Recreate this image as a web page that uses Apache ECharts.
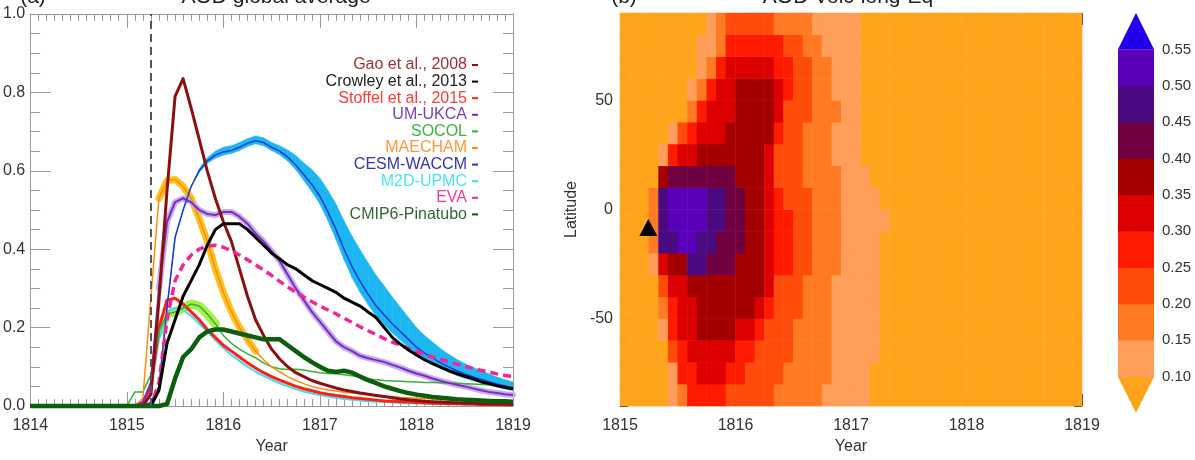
<!DOCTYPE html>
<html><head><meta charset="utf-8">
<script src="https://cdn.jsdelivr.net/npm/echarts@6/dist/echarts.min.js"></script>
<style>html,body{margin:0;padding:0;background:#fff}#chart{width:1195px;height:460px}</style>
</head><body><div id="chart"></div>
<script>
const FONT = '"Liberation Sans", Arial, Helvetica, sans-serif';

// ---------- panel (a): AOD global average ----------
// time grid: one point in 1814, then monthly from 1815.0 to 1819.0
const years = [1814].concat(Array.from({length: 49}, (_, k) => 1815 + k / 12));
const eruptionYear = 1815.25;

const gao = [0, 0,0,0,0.03,0.27,0.55,0.79,0.835,0.76,0.68,0.60,0.53,0.47,0.42,0.35,0.28,0.22,0.18,0.145,0.12,0.10,0.085,0.075,0.065,0.058,0.052,0.046,0.041,0.037,0.033,0.030,0.027,0.024,0.021,0.018,0.016,0.014,0.012,0.011,0.010,0.009,0.008,0.007,0.007,0.006,0.006,0.005,0.005,0.004];
const crowley = [0, 0,0,0,0,0.04,0.16,0.22,0.28,0.32,0.36,0.41,0.45,0.465,0.465,0.465,0.45,0.43,0.41,0.39,0.375,0.36,0.35,0.335,0.32,0.31,0.30,0.29,0.275,0.265,0.255,0.24,0.225,0.20,0.175,0.158,0.143,0.13,0.118,0.108,0.099,0.09,0.083,0.076,0.07,0.062,0.057,0.052,0.048,0.044];
const stoffel = [0, 0,0,0.01,0.05,0.20,0.27,0.275,0.26,0.24,0.22,0.195,0.175,0.155,0.14,0.125,0.11,0.097,0.085,0.075,0.066,0.058,0.05,0.044,0.039,0.034,0.030,0.027,0.024,0.021,0.019,0.017,0.015,0.013,0.012,0.011,0.010,0.009,0.008,0.007,0.007,0.006,0.006,0.005,0.005,0.004,0.004,0.004,0.003,0.003];
const ukca = [0, 0,0,0.01,0.06,0.30,0.47,0.52,0.53,0.52,0.50,0.49,0.487,0.495,0.495,0.483,0.465,0.44,0.42,0.395,0.37,0.335,0.30,0.27,0.24,0.215,0.19,0.165,0.15,0.14,0.128,0.122,0.117,0.112,0.105,0.098,0.09,0.083,0.077,0.07,0.064,0.059,0.054,0.05,0.045,0.04,0.036,0.033,0.03,0.028];
const socol = [0, 0,0.036,0.036,0.08,0.19,0.235,0.24,0.25,0.26,0.255,0.235,0.21,0.18,0.16,0.145,0.133,0.123,0.11,0.10,0.095,0.093,0.094,0.092,0.088,0.085,0.083,0.082,0.08,0.077,0.073,0.069,0.067,0.065,0.064,0.063,0.062,0.061,0.06,0.06,0.059,0.058,0.058,0.057,0.056,0.055,0.054,0.052,0.05,0.048];
const maecham = [0, 0,0,0.02,0.28,0.53,0.575,0.578,0.56,0.53,0.478,0.42,0.35,0.29,0.24,0.20,0.17,0.14,0.118,0.10,0.087,0.075,0.065,0.057,0.05,0.045,0.041,0.038,0.035,0.033,0.031,0.029,0.027,0.025,0.024,0.022,0.021,0.02,0.019,0.018,0.017,0.016,0.016,0.015,0.014,0.014,0.013,0.013,0.012,0.012];
const cesm = [0, 0,0,0,0.01,0.05,0.25,0.43,0.50,0.56,0.60,0.625,0.64,0.648,0.652,0.66,0.67,0.677,0.672,0.66,0.65,0.635,0.615,0.59,0.565,0.535,0.495,0.45,0.40,0.355,0.318,0.285,0.255,0.232,0.21,0.19,0.17,0.15,0.135,0.123,0.11,0.10,0.09,0.082,0.075,0.068,0.062,0.056,0.051,0.046];
const cesmSpreadUp = [0, 0,0,0,0,0,0,0,0,0,0.005,0.008,0.01,0.012,0.012,0.012,0.012,0.012,0.012,0.012,0.014,0.018,0.024,0.03,0.038,0.046,0.055,0.065,0.072,0.078,0.08,0.08,0.078,0.074,0.068,0.062,0.056,0.05,0.045,0.04,0.036,0.032,0.029,0.026,0.024,0.022,0.02,0.018,0.016,0.015];
const cesmSpreadDown = [0, 0,0,0,0,0,0,0,0,0,0.004,0.006,0.008,0.008,0.008,0.008,0.008,0.008,0.008,0.008,0.009,0.01,0.012,0.015,0.018,0.02,0.022,0.025,0.027,0.028,0.028,0.027,0.026,0.025,0.024,0.022,0.02,0.018,0.016,0.015,0.014,0.013,0.012,0.011,0.01,0.009,0.009,0.008,0.008,0.007];
const m2d = [0, 0,0,0.005,0.04,0.17,0.24,0.25,0.245,0.23,0.21,0.19,0.168,0.148,0.13,0.115,0.10,0.088,0.077,0.067,0.058,0.05,0.043,0.037,0.032,0.028,0.024,0.021,0.018,0.016,0.014,0.012,0.011,0.010,0.009,0.008,0.007,0.007,0.006,0.006,0.005,0.005,0.005,0.004,0.004,0.004,0.004,0.003,0.003,0.003];
const eva = [0, 0,0,0,0,0.06,0.22,0.32,0.36,0.385,0.40,0.408,0.41,0.405,0.396,0.385,0.373,0.36,0.347,0.333,0.318,0.304,0.29,0.278,0.266,0.255,0.245,0.235,0.224,0.213,0.202,0.192,0.182,0.172,0.163,0.155,0.147,0.139,0.132,0.125,0.119,0.113,0.107,0.101,0.096,0.091,0.087,0.082,0.078,0.075];
const cmip6 = [0, 0,0,0,0,0,0.005,0.07,0.125,0.145,0.175,0.19,0.195,0.195,0.19,0.185,0.18,0.175,0.17,0.17,0.17,0.155,0.14,0.125,0.112,0.10,0.09,0.087,0.09,0.085,0.075,0.066,0.058,0.05,0.044,0.038,0.033,0.029,0.026,0.023,0.021,0.019,0.017,0.016,0.015,0.014,0.013,0.012,0.012,0.011];

const legendNames  = ['Gao et al., 2008','Crowley et al., 2013','Stoffel et al., 2015','UM-UKCA','SOCOL','MAECHAM','CESM-WACCM','M2D-UPMC','EVA','CMIP6-Pinatubo'];
const labelColors  = ['#9e3232','#222222','#ff3b30','#7a3fb8','#3cb43c','#ff963a','#3434b0','#4fe4f2','#ee3a9e','#2e6b2e'];
const lineColors   = ['#8b1111','#000000','#ff2014','#7b2cc0','#35b035','#ff8c10','#1a3ad6','#3ce0f0','#f0269a','#0b5e0b'];
const lineWidths   = [3, 3, 3, 2, 1.5, 1.5, 1.5, 2, 3.5, 4.5];
const seriesValues = [gao, crowley, stoffel, ukca, socol, maecham, cesm, m2d, eva, cmip6];
const drawOrder    = [7, 2, 4, 5, 3, 6, 0, 8, 1, 9];

// ---------- panel (b): AOD Volc-long-Eq (monthly from Jan 1815, 10-degree bands) ----------
const aodN85 = [0,0,0,0.01,0.02,0.03,0.05,0.07,0.09,0.12,0.17,0.21,0.23,0.24,0.23,0.21,0.19,0.18,0.17,0.16,0.14,0.13,0.13,0.12,0.11,0.098,0.092,0.09];
const aodN75 = [0,0,0,0.01,0.03,0.04,0.06,0.08,0.11,0.14,0.19,0.26,0.28,0.29,0.29,0.28,0.27,0.24,0.22,0.19,0.17,0.145,0.13,0.12,0.11,0.098,0.092,0.09];
const aodN65 = [0,0,0,0.01,0.03,0.05,0.07,0.09,0.13,0.18,0.26,0.31,0.33,0.34,0.34,0.32,0.28,0.26,0.23,0.21,0.19,0.17,0.145,0.13,0.11,0.095,0.09,0.088];
const aodN55 = [0,0,0,0.01,0.04,0.06,0.08,0.11,0.17,0.26,0.31,0.33,0.36,0.37,0.37,0.36,0.31,0.26,0.23,0.21,0.19,0.17,0.148,0.13,0.11,0.095,0.09,0.088];
const aodN45 = [0,0,0,0.02,0.05,0.07,0.098,0.17,0.26,0.31,0.33,0.34,0.37,0.38,0.38,0.36,0.32,0.248,0.23,0.21,0.19,0.17,0.152,0.13,0.105,0.095,0.09,0.088];
const aodN35 = [0,0,0,0.03,0.06,0.11,0.20,0.27,0.31,0.32,0.33,0.36,0.38,0.38,0.37,0.355,0.28,0.24,0.22,0.199,0.18,0.165,0.148,0.13,0.11,0.095,0.09,0.088];
const aodN25 = [0,0,0,0.08,0.13,0.26,0.31,0.33,0.36,0.37,0.38,0.39,0.39,0.38,0.36,0.31,0.24,0.23,0.21,0.195,0.18,0.16,0.145,0.13,0.115,0.099,0.092,0.088];
const aodN15 = [0,0,0,0.09,0.38,0.42,0.44,0.44,0.44,0.43,0.42,0.41,0.39,0.38,0.36,0.31,0.248,0.23,0.215,0.198,0.185,0.165,0.152,0.135,0.12,0.105,0.095,0.09];
const aodN05 = [0,0,0,0.17,0.49,0.52,0.54,0.53,0.51,0.48,0.46,0.43,0.41,0.38,0.352,0.31,0.27,0.24,0.225,0.21,0.195,0.175,0.16,0.145,0.13,0.12,0.11,0.099];
const aodS05 = [0,0,0,0.17,0.49,0.53,0.549,0.53,0.51,0.48,0.46,0.43,0.41,0.385,0.355,0.32,0.28,0.255,0.23,0.21,0.198,0.18,0.162,0.148,0.135,0.12,0.11,0.101];
const aodS15 = [0,0,0,0.15,0.46,0.49,0.505,0.502,0.49,0.47,0.448,0.43,0.41,0.39,0.36,0.32,0.28,0.255,0.23,0.21,0.195,0.175,0.16,0.145,0.13,0.12,0.105,0.098];
const aodS25 = [0,0,0,0.12,0.32,0.352,0.39,0.46,0.46,0.44,0.42,0.402,0.39,0.38,0.36,0.32,0.28,0.25,0.225,0.205,0.19,0.17,0.155,0.14,0.125,0.115,0.102,0.095];
const aodS35 = [0,0,0,0.09,0.24,0.31,0.34,0.36,0.39,0.395,0.39,0.385,0.38,0.375,0.36,0.31,0.245,0.23,0.215,0.199,0.185,0.165,0.148,0.135,0.12,0.11,0.102,0.095];
const aodS45 = [0,0,0,0.06,0.17,0.29,0.32,0.345,0.37,0.38,0.38,0.375,0.37,0.36,0.34,0.28,0.245,0.23,0.21,0.195,0.18,0.16,0.145,0.135,0.12,0.11,0.101,0.095];
const aodS55 = [0,0,0,0.05,0.11,0.26,0.305,0.33,0.355,0.365,0.36,0.355,0.34,0.32,0.27,0.245,0.23,0.215,0.198,0.185,0.175,0.16,0.148,0.135,0.125,0.115,0.102,0.095];
const aodS65 = [0,0,0,0.04,0.09,0.21,0.27,0.31,0.33,0.34,0.335,0.32,0.298,0.252,0.24,0.23,0.215,0.202,0.19,0.18,0.17,0.155,0.148,0.135,0.125,0.115,0.102,0.094];
const aodS75 = [0,0,0,0.03,0.08,0.14,0.255,0.28,0.302,0.31,0.305,0.28,0.25,0.24,0.225,0.215,0.205,0.195,0.185,0.175,0.165,0.155,0.145,0.13,0.12,0.11,0.098,0.09];
const aodS85 = [0,0,0,0.02,0.08,0.11,0.18,0.26,0.28,0.28,0.26,0.24,0.23,0.22,0.21,0.205,0.19,0.18,0.175,0.165,0.16,0.149,0.14,0.13,0.12,0.105,0.095,0.09];
// months 28..47 (mid-1817 to end of 1818): faded below 0.10 at every latitude
const lateTail = [0.086,0.082,0.077,0.072,0.068,0.064,0.06,0.057,0.054,0.051,0.048,0.046,0.044,0.042,0.04,0.038,0.036,0.035,0.033,0.032];
const latBands = [-85,-75,-65,-55,-45,-35,-25,-15,-5,5,15,25,35,45,55,65,75,85];
const aodRows = [aodS85,aodS75,aodS65,aodS55,aodS45,aodS35,aodS25,aodS15,aodS05,aodN05,aodN15,aodN25,aodN35,aodN45,aodN55,aodN65,aodN75,aodN85];
const tambora = [1815.245, -8.25];

const levels = [0.10,0.15,0.20,0.25,0.30,0.35,0.40,0.45,0.50,0.55];
const levelColors = ['#ffa41b','#ff9e58','#ff7a22','#ff4c0a','#ff1a00','#dc0000','#a50000','#700040','#4c0a80','#5a00b8','#2200ee'];

// ---------- build ----------
const pairs = arr => arr.map((v, i) => [years[i], v == null ? '-' : v]);
const within = (arr, a, b) => arr.map((v, i) => (i >= a && i <= b) ? v : null);
const cesmLow = cesm.map((v, i) => v - cesmSpreadDown[i]);
const cesmHigh = cesm.map((v, i) => v + cesmSpreadUp[i]);

const heatData = [];
aodRows.forEach((row, j) => row.concat(lateTail).forEach((v, i) => heatData.push([i, j, v])));
const monthCats = Array.from({length: 48}, (_, m) => 'm' + m);

const pieces = levelColors.map((c, i) => {
  const p = {color: c};
  if (i > 0) p.gte = levels[i - 1];
  if (i < levels.length) p.lt = levels[i];
  return p;
});

const series = [];
// CESM-WACCM spread band, drawn segment by segment between the low and high envelopes
series.push({type:'custom', name:'cesm-band', xAxisIndex:0, yAxisIndex:0, silent:true, clip:false,
  data: years.map((t, i) => [t, cesmLow[i], cesmHigh[i]]), encode:{x:0, y:[1, 2]},
  renderItem: (params, api) => {
    const i = params.dataIndex;
    if (i === 0) return null;
    const p0 = api.coord([years[i - 1], cesmLow[i - 1]]), p1 = api.coord([years[i], cesmLow[i]]);
    const q1 = api.coord([years[i], cesmHigh[i]]), q0 = api.coord([years[i - 1], cesmHigh[i - 1]]);
    return {type:'polygon', shape:{points:[p0, p1, q1, q0]}, style:{fill:'#1cb6f0', stroke:'#1cb6f0', lineWidth:0.6}};
  }});
// ensemble halos
const halos = [[maecham, 5, 17, '#ffc21a', 7], [ukca, 5, 49, '#c9abef', 6], [socol, 5, 12, '#a6ee4a', 9]];
halos.forEach(([arr, a, b, c, w], k) => series.push({type:'line', name:'halo' + k, xAxisIndex:0, yAxisIndex:0,
  symbol:'none', silent:true, data: pairs(within(arr, a, b)), lineStyle:{color:c, width:w, cap:'round', join:'round'}, clip:false}));
drawOrder.forEach(i => {
  const s = {type:'line', name: legendNames[i], xAxisIndex:0, yAxisIndex:0, symbol:'none', showSymbol:false,
    data: pairs(seriesValues[i]), color: lineColors[i], clip:false,
    lineStyle:{color: lineColors[i], width: lineWidths[i], type: legendNames[i] === 'EVA' ? [8, 5] : 'solid', join:'round'}};
  if (legendNames[i] === 'Crowley et al., 2013') {
    s.markLine = {silent:true, symbol:['none','none'], label:{show:false},
      lineStyle:{color:'#555', width:2, type:[8, 5]}, data:[{xAxis: eruptionYear}]};
  }
  series.push(s);
});
const heatIndex = series.length;
series.push({type:'heatmap', xAxisIndex:2, yAxisIndex:2, data: heatData, itemStyle:{borderWidth:0}, silent:true});
series.push({type:'scatter', xAxisIndex:3, yAxisIndex:3, data:[tambora], symbol:'triangle', symbolSize:[18, 17],
  itemStyle:{color:'#000', opacity:1}, silent:true, z:5});
series.push({type:'custom', xAxisIndex:5, yAxisIndex:6, silent:true,
  data: levelColors.map((c, i) => [0.5, i === 0 ? 0.05 : levels[i - 1], i === levels.length ? 0.60 : levels[i]]),
  encode:{x:0, y:1},
  renderItem: (params, api) => {
    const i = params.dataIndex;
    const a = api.coord([0, api.value(1)]), b = api.coord([1, api.value(2)]);
    const fill = levelColors[i];
    if (i === 0) return {type:'polygon', shape:{points:[[a[0], b[1]], [b[0], b[1]], [(a[0] + b[0]) / 2, a[1]]]}, style:{fill}};
    if (i === levels.length) return {type:'polygon', shape:{points:[[a[0], a[1]], [b[0], a[1]], [(a[0] + b[0]) / 2, b[1]]]}, style:{fill}};
    return {type:'rect', shape:{x:a[0], y:b[1], width:b[0] - a[0], height:a[1] - b[1] + 0.5}, style:{fill}};
  }});

const gray = '#9a9a9a', dark = '#444';
const lbl = {fontSize:16, color:'#333', fontFamily:FONT};
function xAx(grid, min, max, pos, showLabel, col, major, minor, lineCol) {
  return {gridIndex:grid, type:'value', min, max, interval:1, position:pos,
    axisLine:{show:true, onZero:false, lineStyle:{color:lineCol, width:1}},
    axisTick:{show:true, inside:true, length:major, lineStyle:{color:col}},
    minorTick:{show:true, splitNumber:12, length:minor, lineStyle:{color:col}},
    axisLabel: showLabel ? Object.assign({margin:12, formatter: v => String(v)}, lbl) : {show:false},
    splitLine:{show:false}, minorSplitLine:{show:false},
    name: showLabel ? 'Year' : '', nameLocation:'middle', nameGap:33, nameTextStyle:lbl};
}

const option = {
  animation:false,
  backgroundColor:'#fff',
  textStyle:{fontFamily:FONT},
  grid:[
    {left:30, top:14, width:483, height:395},
    {left:620, top:13, width:462, height:399},
    {left:1118, top:13, width:36, height:400}
  ],
  visualMap:{type:'piecewise', show:false, seriesIndex:heatIndex, dimension:2, pieces},
  legend:{orient:'vertical', right:717, top:57, align:'right', padding:0, itemGap:0.6, itemWidth:6, itemHeight:2,
    icon:'rect', selectedMode:false,
    textStyle:{fontSize:16, lineHeight:16, fontFamily:FONT},
    data: legendNames.map((n, i) => ({name:n, textStyle:{color: labelColors[i]}}))},
  xAxis:[
    xAx(0, 1814, 1819, 'bottom', true, gray, 14, 7, gray),
    xAx(0, 1814, 1819, 'top', false, gray, 14, 7, gray),
    {gridIndex:1, type:'category', data:monthCats, show:false},
    xAx(1, 1815, 1819, 'bottom', true, dark, 12, 4, '#eeeeee'),
    xAx(1, 1815, 1819, 'top', false, dark, 12, 4, '#eeeeee'),
    {gridIndex:2, type:'value', min:0, max:1, show:false}
  ],
  yAxis:[
    {gridIndex:0, type:'value', min:0, max:1, interval:0.2, position:'left',
      axisLine:{show:true, lineStyle:{color:gray}}, axisTick:{show:true, inside:true, length:20, lineStyle:{color:gray}},
      minorTick:{show:true, splitNumber:4, length:10, lineStyle:{color:gray}},
      axisLabel:Object.assign({margin:5, formatter: v => v.toFixed(1)}, lbl), splitLine:{show:false}},
    {gridIndex:0, type:'value', min:0, max:1, interval:0.2, position:'right',
      axisLine:{show:true, lineStyle:{color:gray}}, axisTick:{show:true, inside:true, length:20, lineStyle:{color:gray}},
      minorTick:{show:true, splitNumber:4, length:10, lineStyle:{color:gray}},
      axisLabel:{show:false}, splitLine:{show:false}},
    {gridIndex:1, type:'category', data:latBands.map(String), show:false},
    {gridIndex:1, type:'value', min:-90, max:90, interval:10, position:'left',
      axisLine:{show:true, lineStyle:{color:'#eeeeee'}}, axisTick:{show:true, inside:true, length:8, lineStyle:{color:dark}},
      axisLabel:Object.assign({margin:7, formatter: v => (v === 0 || Math.abs(v) === 50) ? String(v) : ''}, lbl),
      splitLine:{show:false}, name:'Latitude', nameLocation:'middle', nameRotate:90, nameGap:40, nameTextStyle:lbl},
    {gridIndex:1, type:'value', min:-90, max:90, interval:10, position:'right',
      axisLine:{show:true, lineStyle:{color:'#eeeeee'}}, axisTick:{show:true, inside:true, length:8, lineStyle:{color:dark}},
      axisLabel:{show:false}, splitLine:{show:false}},
    {gridIndex:1, type:'value', min:-90, max:90, position:'left', axisLine:{show:false},
      axisTick:{show:true, inside:true, length:17, customValues:[-50, 0, 50], lineStyle:{color:dark}},
      axisLabel:{show:false}, splitLine:{show:false}},
    {gridIndex:2, type:'value', min:0.05, max:0.60, position:'right', axisLine:{show:false}, axisTick:{show:false},
      axisLabel:Object.assign({margin:8, customValues:levels, formatter: v => v.toFixed(2)}, lbl, {fontSize:15}),
      splitLine:{show:false}}
  ],
  graphic:[
    {type:'text', x:33, y:-3, style:{text:'(a)', font:'21px ' + FONT, fill:'#222', align:'center', verticalAlign:'middle'}},
    {type:'text', x:276, y:-3, style:{text:'AOD global average', font:'21px ' + FONT, fill:'#222', align:'center', verticalAlign:'middle'}},
    {type:'text', x:624, y:-3, style:{text:'(b)', font:'21px ' + FONT, fill:'#222', align:'center', verticalAlign:'middle'}},
    {type:'text', x:848, y:-3, style:{text:'AOD Volc-long-Eq', font:'21px ' + FONT, fill:'#222', align:'center', verticalAlign:'middle'}}
  ],
  series
};
const chart = echarts.init(document.getElementById('chart'), null, {renderer:'canvas'});
chart.setOption(option);
</script>
</body></html>
